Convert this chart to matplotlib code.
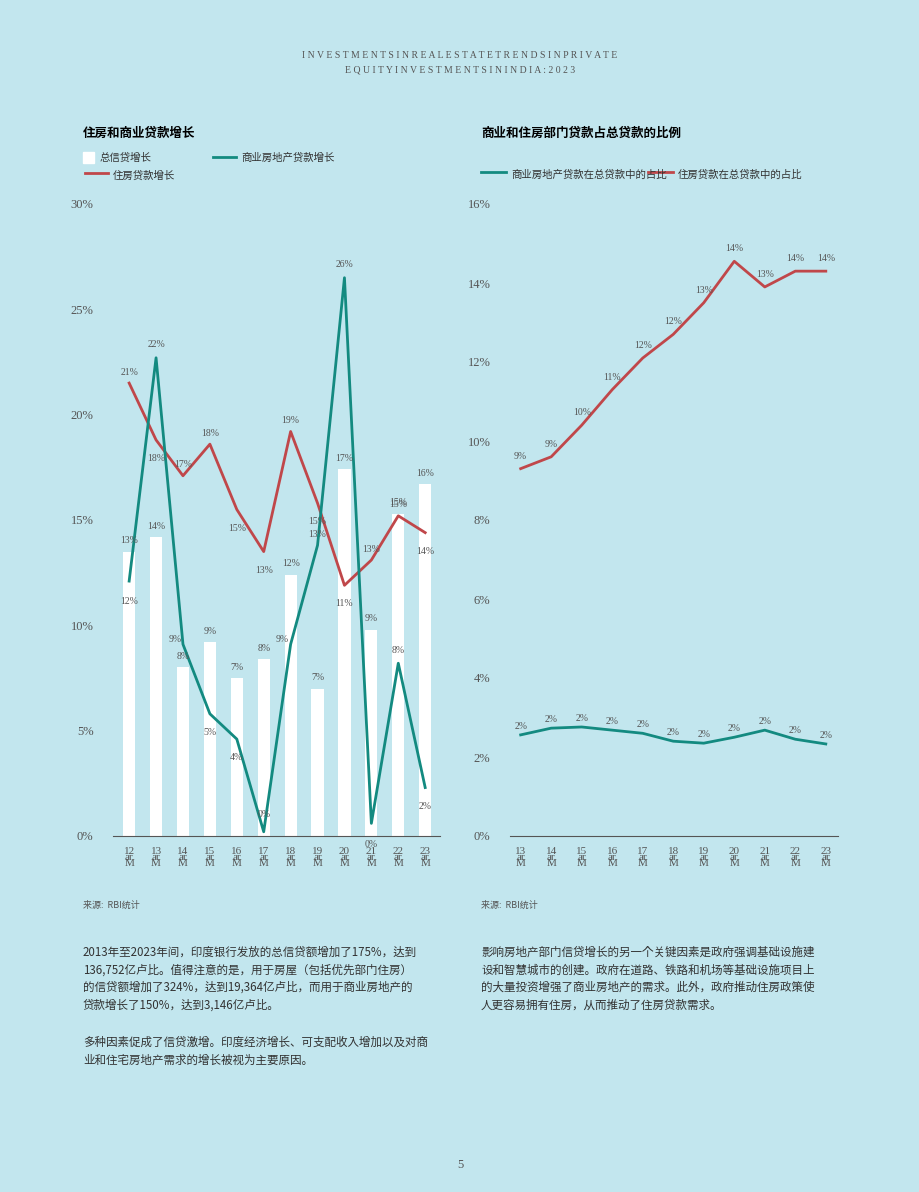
import matplotlib
matplotlib.use("Agg")
import matplotlib.pyplot as plt
from matplotlib import font_manager

years_l = ["12", "13", "14", "15", "16", "17", "18", "19", "20", "21", "22", "23"]
total_credit = [13.5, 14.2, 8.0, 9.2, 7.5, 8.4, 12.4, 7.0, 17.4, 9.8, 15.3, 16.7]
housing_growth = [21.5, 18.8, 17.1, 18.6, 15.5, 13.5, 19.2, 15.8, 11.9, 13.1, 15.2, 14.4]
commercial_growth = [12.1, 22.7, 9.1, 5.8, 4.6, 0.2, 9.1, 13.8, 26.5, 0.6, 8.2, 2.3]

years_r = ["13", "14", "15", "16", "17", "18", "19", "20", "21", "22", "23"]
housing_share = [9.3, 9.6, 10.4, 11.3, 12.1, 12.7, 13.5, 14.55, 13.9, 14.3, 14.3]
commercial_share = [2.56, 2.73, 2.76, 2.68, 2.6, 2.4, 2.35, 2.5, 2.68, 2.45, 2.33]

BG = "#c2e6ee"
RED = "#c0474a"
TEAL = "#138a80"
names = {f.name for f in font_manager.fontManager.ttflist}
CJK = [n for n in ["Noto Sans CJK SC", "Noto Sans CJK JP", "Noto Sans CJK TC", "Noto Sans CJK KR"] if n in names] or ["DejaVu Sans"]
CJK = CJK + ["DejaVu Sans"]
SER = "Liberation Serif"

fig = plt.figure(figsize=(9.2, 11.92), dpi=100, facecolor=BG)
W, H = 920, 1192

def ax_at(x0, y0, x1, y1):
    return fig.add_axes([x0 / W, 1 - y1 / H, (x1 - x0) / W, (y1 - y0) / H])

def style(ax, ymax, step):
    ax.set_facecolor(BG)
    for s in ["top", "right", "left"]:
        ax.spines[s].set_visible(False)
    ax.spines["bottom"].set_color("#555555")
    ax.set_ylim(0, ymax)
    ticks = list(range(0, ymax + 1, step))
    ax.set_yticks(ticks)
    ax.set_yticklabels([f"{t}%" for t in ticks], fontfamily=SER, fontsize=9, color="#555555")
    ax.tick_params(axis="y", length=0, pad=14)
    ax.tick_params(axis="x", length=0, pad=8)

def xlabels(ax, yrs):
    ax.set_xticks(range(len(yrs)))
    ax.set_xticklabels([f"{y}\nar\nM" for y in yrs], fontfamily=SER, fontsize=8,
                       color="#555555", linespacing=0.55)

def lab(ax, x, y, v, dy):
    ax.text(x, y + dy, f"{int(v)}%", ha="center", va="bottom", fontsize=7,
            fontfamily=SER, color="#555555")

# Left chart
axl = ax_at(113, 204, 440, 836)
style(axl, 30, 5)
x = list(range(len(years_l)))
axl.bar(x, total_credit, width=0.45, color="white")
axl.plot(x, housing_growth, color=RED, lw=2)
axl.plot(x, commercial_growth, color=TEAL, lw=2)
h_dy = [0.3, -1.1, 0.3, 0.3, -1.1, -1.1, 0.3, -1.1, -1.1, 0.3, 0.3, -1.1]
c_dy = [-1.2, 0.4, 0.0, -1.1, -1.1, 0.6, 0.0, 0.3, 0.4, -1.2, 0.4, -1.1]
for i in x:
    lab(axl, i, total_credit[i], total_credit[i], 0.3)
    lab(axl, i, housing_growth[i], housing_growth[i], h_dy[i])
    lab(axl, i - (0.3 if i in (2, 6) else 0), commercial_growth[i], commercial_growth[i], c_dy[i])
axl.set_xlim(-0.6, len(x) - 0.45)
xlabels(axl, years_l)

# Right chart
axr = ax_at(510, 204, 838, 836)
style(axr, 16, 2)
xr = list(range(len(years_r)))
axr.plot(xr, housing_share, color=RED, lw=2)
axr.plot(xr, commercial_share, color=TEAL, lw=2)
for i in xr:
    lab(axr, i, housing_share[i], housing_share[i], 0.2)
    lab(axr, i, commercial_share[i], commercial_share[i], 0.1)
axr.set_xlim(-0.35, len(xr) - 0.6)
xlabels(axr, years_r)

# Header
fig.text(0.5, 1 - 58 / H, "I N V E S T M E N T S I N R E A L E S T A T E T R E N D S I N P R I V A T E",
         ha="center", fontsize=7, fontfamily=SER, color="#555555")
fig.text(0.5, 1 - 72 / H, "E Q U I T Y I N V E S T M E N T S I N I N D I A : 2 0 2 3",
         ha="center", fontsize=7, fontfamily=SER, color="#555555")

# Titles
fig.text(83 / W, 1 - 133 / H, "住房和商业贷款增长", fontsize=9, fontweight="bold", fontfamily=CJK, va="center")
fig.text(481 / W, 1 - 133 / H, "商业和住房部门贷款占总贷款的比例", fontsize=9, fontweight="bold", fontfamily=CJK, va="center")

# Legends (left)
fig.patches.append(plt.Rectangle((83 / W, 1 - 163 / H), 11 / W, 11 / H, color="white", transform=fig.transFigure))
fig.text(100 / W, 1 - 158 / H, "总信贷增长", fontsize=7.5, fontfamily=CJK, va="center", color="#333333")
fig.add_artist(plt.Line2D([213 / W, 236 / W], [1 - 157 / H] * 2, color=TEAL, lw=2))
fig.text(241 / W, 1 - 158 / H, "商业房地产贷款增长", fontsize=7.5, fontfamily=CJK, va="center", color="#333333")
fig.add_artist(plt.Line2D([85 / W, 108 / W], [1 - 173 / H] * 2, color=RED, lw=2))
fig.text(113 / W, 1 - 176 / H, "住房贷款增长", fontsize=7.5, fontfamily=CJK, va="center", color="#333333")
# Legends (right)
fig.add_artist(plt.Line2D([481 / W, 506 / W], [1 - 172 / H] * 2, color=TEAL, lw=2))
fig.text(511 / W, 1 - 175 / H, "商业房地产贷款在总贷款中的占比", fontsize=7.5, fontfamily=CJK, va="center", color="#333333")
fig.add_artist(plt.Line2D([648 / W, 673 / W], [1 - 172 / H] * 2, color=RED, lw=2))
fig.text(678 / W, 1 - 175 / H, "住房贷款在总贷款中的占比", fontsize=7.5, fontfamily=CJK, va="center", color="#333333")

# Sources
fig.text(83 / W, 1 - 905 / H, "来源:  RBI统计", fontsize=6.5, fontfamily=CJK, va="center", color="#555555")
fig.text(481 / W, 1 - 905 / H, "来源:  RBI统计", fontsize=6.5, fontfamily=CJK, va="center", color="#555555")

# Body text
left_p1 = ("2013年至2023年间，印度银行发放的总信贷额增加了175%，达到\n"
           "136,752亿卢比。值得注意的是，用于房屋（包括优先部门住房）\n"
           "的信贷额增加了324%，达到19,364亿卢比，而用于商业房地产的\n"
           "贷款增长了150%，达到3,146亿卢比。")
left_p2 = ("多种因素促成了信贷激增。印度经济增长、可支配收入增加以及对商\n"
           "业和住宅房地产需求的增长被视为主要原因。")
right_p = ("影响房地产部门信贷增长的另一个关键因素是政府强调基础设施建\n"
           "设和智慧城市的创建。政府在道路、铁路和机场等基础设施项目上\n"
           "的大量投资增强了商业房地产的需求。此外，政府推动住房政策使\n"
           "人更容易拥有住房，从而推动了住房贷款需求。")
fig.text(83 / W, 1 - 946 / H, left_p1, fontsize=8.3, fontfamily=CJK, va="top", color="#333333", linespacing=1.45)
fig.text(83 / W, 1 - 1036 / H, left_p2, fontsize=8.3, fontfamily=CJK, va="top", color="#333333", linespacing=1.45)
fig.text(481 / W, 1 - 946 / H, right_p, fontsize=8.3, fontfamily=CJK, va="top", color="#333333", linespacing=1.45)

fig.text(0.5, 1 - 1165 / H, "5", ha="center", va="center", fontsize=9, fontfamily=SER, color="#555555")

fig.savefig("out.png", dpi=100, facecolor=BG)
